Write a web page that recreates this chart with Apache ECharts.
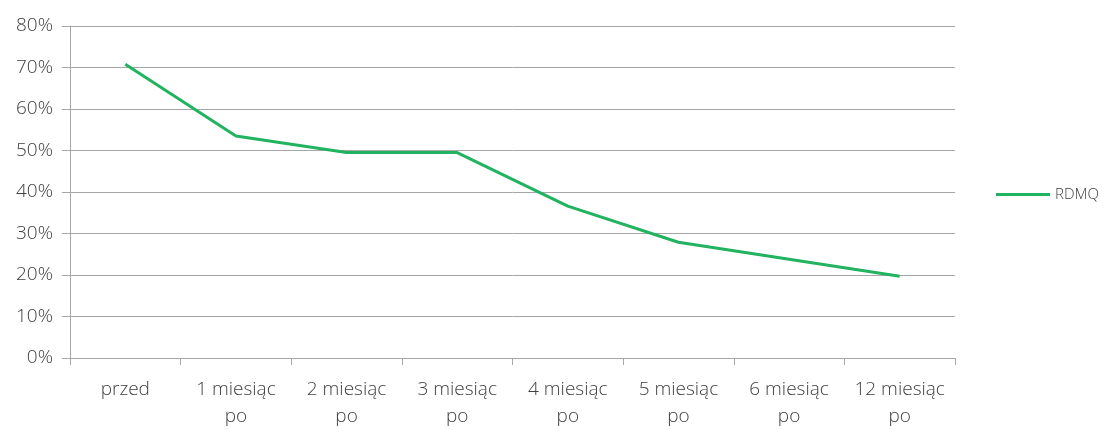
<!DOCTYPE html>
<html>
<head>
<meta charset="utf-8">
<title>RDMQ</title>
<script src="https://cdn.jsdelivr.net/npm/echarts@6/dist/echarts.min.js"></script>
<style>
  html, body { margin: 0; padding: 0; background: #fff; }
  #chart { width: 1104px; height: 430px; }
</style>
</head>
<body>
<div id="chart"></div>
<script>
  // dane
  var categories = ['przed', '1 miesiąc\npo', '2 miesiąc\npo', '3 miesiąc\npo', '4 miesiąc\npo', '5 miesiąc\npo', '6 miesiąc\npo', '12 miesiąc\npo'];
  var rdmq = [70.8, 53.5, 49.5, 49.5, 36.6, 27.9, 23.8, 19.7];
  var seriesName = 'RDMQ';

  var axisGray = '#a6a6a6';
  var textGray = '#404040';
  var font = '"Open Sans", "Noto Sans", sans-serif';

  var chart = echarts.init(document.getElementById('chart'));
  chart.setOption({
    animation: false,
    grid: { left: 70, right: 149, top: 26, bottom: 72 },
    legend: {
      orient: 'vertical',
      left: 996,
      top: 187,
      padding: 0,
      icon: 'rect',
      itemWidth: 54,
      itemHeight: 3,
      itemGap: 5,
      textStyle: { color: textGray, fontSize: 15, fontWeight: 300, fontFamily: font },
      data: [seriesName]
    },
    xAxis: {
      type: 'category',
      data: categories,
      boundaryGap: true,
      axisLine: { lineStyle: { color: axisGray, width: 1 } },
      axisTick: { show: true, length: 7, lineStyle: { color: axisGray } },
      axisLabel: {
        interval: 0,
        color: textGray,
        fontSize: 19,
        fontWeight: 300,
        fontFamily: font,
        lineHeight: 27,
        margin: 18
      }
    },
    yAxis: {
      type: 'value',
      min: 0,
      max: 80,
      interval: 10,
      axisLine: { show: true, lineStyle: { color: axisGray, width: 1 } },
      axisTick: { show: true, length: 8, lineStyle: { color: axisGray } },
      splitLine: { lineStyle: { color: axisGray, width: 1 } },
      axisLabel: {
        formatter: '{value}%',
        color: textGray,
        fontSize: 19,
        fontWeight: 300,
        fontFamily: font,
        margin: 17
      }
    },
    series: [{
      name: seriesName,
      type: 'line',
      data: rdmq,
      symbol: 'none',
      lineStyle: { color: '#21b35f', width: 3 },
      itemStyle: { color: '#21b35f' }
    }]
  });
</script>
</body>
</html>
